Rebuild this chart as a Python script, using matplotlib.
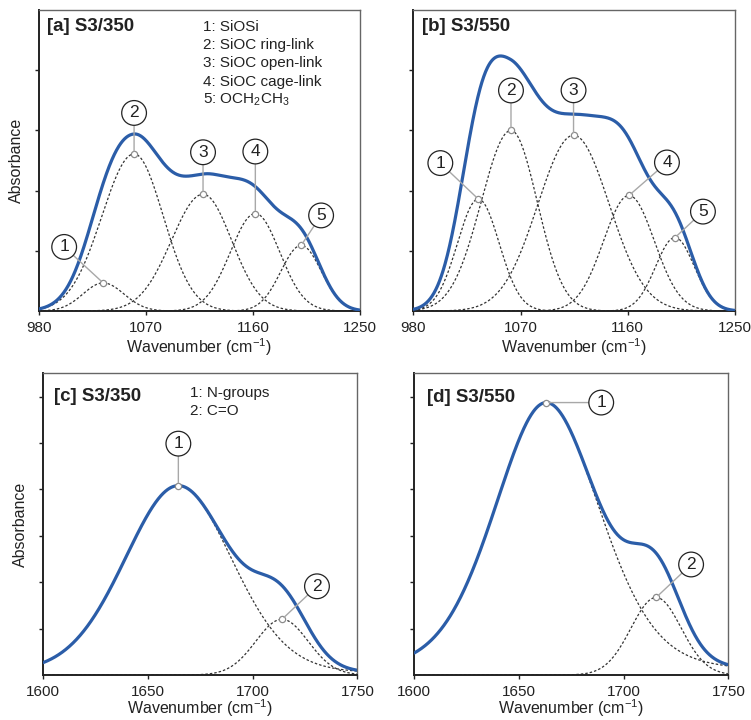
import numpy as np
import matplotlib
matplotlib.use('Agg')
from matplotlib import pyplot as plt

#----------------------------------------------------------------------
# peak parameters
# center, height, half width (left / right side), lorentz ratio
a_center = [1034, 1060, 1118, 1162, 1200.5]
a_height = [0.467, 2.61, 1.94, 1.62, 1.09]
a_hw_left = [20.0, 31.8, 31.2, 24.7, 20.0]
a_hw_right = [20.6, 28.8, 28.3, 24.1, 20.0]
a_eta = [0, 0, 0, 0, 0]

b_center = [1034.6, 1062, 1114.5, 1161, 1199.6]
b_height = [1.86, 3.0, 2.92, 1.92, 1.22]
b_hw_left = [20.6, 29.4, 35.3, 25.1, 19.1]
b_hw_right = [20.6, 25.9, 35.3, 25.1, 19.1]
b_eta = [0, 0, 0, 0, 0]

c_center = [1664.5, 1714]
c_height = [4.08, 1.2]
c_hw_left = [30.5, 14.7]
c_hw_right = [30.5, 14.7]
c_eta = [0.15, 0]

d_center = [1663, 1715.5]
d_height = [5.87, 1.67]
d_hw_left = [29.5, 14.1]
d_hw_right = [30.5, 14.1]
d_eta = [0.28, 0]

si_xticks = [980, 1070, 1160, 1250]
co_xticks = [1600, 1650, 1700, 1750]
si_legend = ['1: SiOSi', '2: SiOC ring-link', '3: SiOC open-link',
             '4: SiOC cage-link', r'5: OCH$\mathregular{_2}$CH$\mathregular{_3}$']
co_legend = ['1: N-groups', '2: C=O']

FONT = ['Liberation Sans Narrow', 'DejaVu Sans Condensed', 'Liberation Sans']
plt.rcParams['font.family'] = FONT
plt.rcParams['mathtext.fontset'] = 'custom'
plt.rcParams['mathtext.rm'] = 'DejaVu Sans Condensed'

BLUE = '#2b5da8'
TXT = '#222222'


def peak(x, c, h, wl, wr, eta):
    w = np.where(x < c, wl, wr)
    u = (x - c) / w
    return h * (eta / (1 + u ** 2) + (1 - eta) * np.exp(-np.log(2) * u ** 2))


#======================================================================
def panel(ax, xr, centers, heights, hwl, hwr, eta, xticks, yticks, ylim,
          title, title_pos, offsets, ylabel=False, xlabelpad=1):
    x = np.linspace(xr[0], xr[1], 700)
    total = np.zeros_like(x)
    for c, h, wl, wr, e in zip(centers, heights, hwl, hwr, eta):
        y = peak(x, c, h, wl, wr, e)
        total += y
        ax.plot(x, y, color='#333333', lw=0.9, dashes=(2, 1.6), zorder=2)
    ax.plot(x, total, color=BLUE, lw=2.3, zorder=3, solid_capstyle='round')

    for i, (c, h) in enumerate(zip(centers, heights)):
        ax.annotate(str(i + 1), xy=(c, h), xytext=offsets[i],
                    textcoords='offset pixels', ha='center', va='center',
                    fontsize=12.5, color=TXT, zorder=6,
                    bbox=dict(boxstyle='circle,pad=0.28', fc='white',
                              ec='#222222', lw=0.9),
                    arrowprops=dict(arrowstyle='-', color='#a8a8a8', lw=1,
                                    shrinkA=0, shrinkB=2))
        ax.plot(c, h, 'o', ms=4.5, mfc='white', mec='#8c8c8c', mew=0.9,
                zorder=5)

    ax.set_xlim(xr)
    ax.set_ylim(ylim)
    ax.set_xticks(xticks)
    ax.set_yticks(yticks)
    ax.set_yticklabels([])
    ax.tick_params(direction='out', length=3, width=1, colors=TXT,
                   labelsize=11, pad=4)
    for s in ['left', 'bottom']:
        ax.spines[s].set_color('#222222')
        ax.spines[s].set_linewidth(1.4)
    for s in ['top', 'right']:
        ax.spines[s].set_color('#666666')
        ax.spines[s].set_linewidth(1.0)
    ax.set_xlabel(r'Wavenumber (cm$\mathregular{^{-1}}$)', fontsize=11.5,
                  color=TXT, labelpad=xlabelpad)
    if ylabel:
        ax.set_ylabel('Absorbance', fontsize=11.5, color=TXT, labelpad=4)
    ax.text(title_pos[0], title_pos[1], title, transform=ax.transAxes,
            fontsize=13.5, fontweight='bold', color=TXT, ha='left',
            va='center')


#======================================================================
if __name__ == '__main__':
    fig = plt.figure(figsize=(7.51, 7.2), dpi=100)
    ax_a = fig.add_axes([0.0519, 0.568, 0.4274, 0.418])
    ax_b = fig.add_axes([0.5503, 0.568, 0.4284, 0.418])
    ax_c = fig.add_axes([0.0577, 0.0625, 0.4181, 0.419])
    ax_d = fig.add_axes([0.5517, 0.0625, 0.4181, 0.419])

    panel(ax_a, (980, 1250), a_center, a_height, a_hw_left, a_hw_right,
          a_eta, si_xticks, [1, 2, 3, 4], (0, 5.0), '[a] S3/350',
          (0.024, 0.947),
          [(-39, 36), (0, 41), (0, 42), (0, 62), (20, 30)], ylabel=True)
    panel(ax_b, (980, 1250), b_center, b_height, b_hw_left, b_hw_right,
          b_eta, si_xticks, [1, 2, 3, 4], (0, 5.0), '[b] S3/550',
          (0.026, 0.947),
          [(-38, 36), (0, 40), (0, 45), (38, 33), (28, 26)])
    panel(ax_c, (1600, 1750), c_center, c_height, c_hw_left, c_hw_right,
          c_eta, co_xticks, [1, 2, 3, 4, 5, 6], (0, 6.5), '[c] S3/350',
          (0.035, 0.922), [(0, 42), (35, 33)], ylabel=True, xlabelpad=-1)
    panel(ax_d, (1600, 1750), d_center, d_height, d_hw_left, d_hw_right,
          d_eta, co_xticks, [1, 2, 3, 4, 5, 6], (0, 6.5), '[d] S3/550',
          (0.039, 0.920), [(55, 0), (35, 33)], xlabelpad=-1)

    # 帰属の凡例
    for i, s in enumerate(si_legend):
        ax_a.text(0.511, 0.944 - i * 0.0607, s, transform=ax_a.transAxes,
                  fontsize=11, color=TXT, ha='left', va='center')
    for i, s in enumerate(co_legend):
        ax_c.text(0.467, 0.936 - i * 0.0625, s, transform=ax_c.transAxes,
                  fontsize=11, color=TXT, ha='left', va='center')

    fig.savefig('out.png', dpi=100)
